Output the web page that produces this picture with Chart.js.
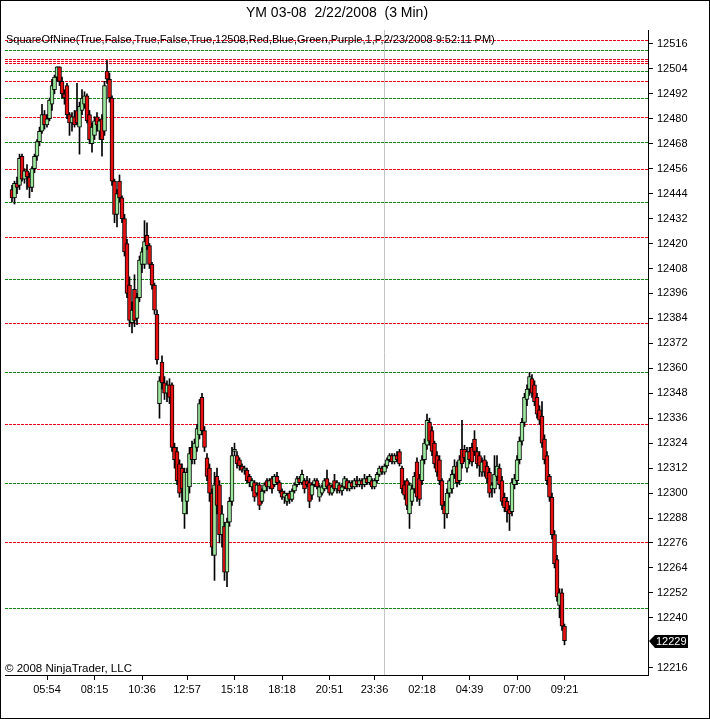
<!DOCTYPE html>
<html>
<head>
<meta charset="utf-8">
<script src="https://cdn.jsdelivr.net/npm/chart.js@4/dist/chart.umd.min.js"></script>
<style>
    html, body { margin: 0; padding: 0; background: #fff; }
</style>
</head>
<body>
<canvas id="chart" width="710" height="719"></canvas>
<script>
// YM 03-08, 3 min bars
let opens = [
    12446,12442,12449,12448,12462,12451,12455,12452,12447,12456,
    12462,12469,12474,12482,12477,12480,12487,12494,12500,12505,
    12498,12492,12496,12482,12478,12481,12484,12476,12484,12487,
    12491,12482,12468,12472,12481,12474,12480,12474,12503,12499,
    12490,12450,12434,12450,12442,12432,12420,12400,12382,12398,
    12384,12394,12410,12410,12424,12419,12410,12400,12386,12343,
    12363,12353,12348,12352,12352,12322,12320,12314,12312,12290,
    12296,12303,12322,12316,12322,12328,12346,12330,12317,12312,
    12300,12270,12308,12304,12280,12284,12262,12286,12296,12320,
    12318,12316,12313,12311,12311,12308,12303,12305,12300,12304,
    12296,12301,12306,12303,12307,12304,12308,12305,12301,12298,
    12296,12300,12297,12301,12304,12307,12305,12306,12306,12305,
    12299,12304,12306,12298,12300,12302,12307,12304,12300,12306,
    12302,12304,12301,12303,12306,12302,12305,12303,12306,12304,
    12306,12304,12307,12305,12306,12303,12306,12309,12312,12310,
    12313,12316,12318,12315,12318,12320,12312,12304,12306,12290,
    12296,12302,12315,12307,12306,12316,12323,12334,12330,12324,
    12318,12316,12306,12294,12290,12300,12302,12309,12313,12306,
    12321,12321,12312,12320,12322,12326,12320,12318,12310,12316,
    12313,12310,12302,12302,12308,12312,12306,12298,12296,12292,
    12291,12304,12306,12316,12325,12334,12345,12350,12355,12352,
    12346,12340,12337,12326,12318,12308,12298,12280,12268,12246,
    12252,12236
];
let highs = [
    12448,12450,12452,12463,12463,12456,12458,12454,12457,12463,
    12470,12476,12487,12484,12482,12490,12499,12501,12505,12505,
    12500,12494,12497,12483,12483,12484,12497,12488,12494,12493,
    12492,12484,12478,12481,12483,12480,12482,12498,12508,12502,
    12491,12451,12446,12453,12443,12434,12422,12404,12392,12405,
    12396,12414,12418,12431,12430,12420,12411,12401,12388,12356,
    12366,12356,12354,12355,12353,12324,12322,12316,12314,12312,
    12312,12322,12325,12326,12333,12345,12348,12332,12319,12314,
    12302,12310,12312,12306,12294,12286,12288,12298,12322,12324,
    12320,12317,12314,12313,12312,12309,12307,12306,12305,12305,
    12302,12305,12307,12307,12308,12309,12310,12306,12302,12301,
    12300,12301,12302,12305,12308,12308,12311,12307,12308,12307,
    12305,12307,12307,12304,12304,12307,12311,12305,12304,12309,
    12306,12305,12304,12308,12307,12306,12306,12307,12308,12307,
    12307,12309,12308,12309,12307,12307,12310,12313,12313,12314,
    12317,12319,12319,12319,12320,12321,12313,12306,12307,12305,
    12304,12310,12317,12309,12318,12326,12338,12336,12332,12325,
    12320,12318,12307,12296,12302,12307,12311,12316,12315,12318,
    12335,12323,12322,12322,12324,12330,12322,12320,12317,12318,
    12315,12312,12305,12318,12318,12314,12308,12300,12298,12294,
    12307,12309,12318,12327,12336,12348,12352,12358,12357,12354,
    12348,12342,12344,12328,12320,12309,12300,12282,12270,12254,
    12254,12237
];
let lows = [
    12440,12439,12444,12446,12450,12449,12446,12442,12445,12454,
    12460,12467,12473,12475,12476,12479,12484,12492,12498,12496,
    12490,12487,12480,12472,12474,12476,12477,12463,12482,12485,
    12478,12468,12464,12470,12474,12470,12462,12472,12497,12488,
    12448,12430,12428,12440,12430,12414,12394,12380,12377,12380,
    12381,12392,12406,12408,12417,12408,12398,12386,12362,12336,
    12350,12345,12344,12343,12320,12312,12304,12298,12296,12283,
    12290,12300,12314,12314,12320,12326,12328,12320,12306,12296,
    12270,12258,12290,12276,12274,12258,12255,12284,12294,12318,
    12312,12311,12310,12309,12305,12303,12301,12296,12299,12292,
    12295,12300,12301,12302,12300,12303,12304,12300,12297,12295,
    12294,12295,12296,12300,12303,12304,12304,12300,12303,12293,
    12297,12303,12302,12296,12299,12301,12302,12299,12299,12301,
    12300,12300,12299,12302,12301,12301,12302,12302,12303,12303,
    12302,12303,12304,12304,12302,12302,12305,12308,12309,12309,
    12312,12315,12314,12314,12315,12313,12300,12297,12292,12283,
    12294,12300,12296,12294,12304,12314,12321,12323,12318,12312,
    12308,12304,12292,12283,12288,12298,12300,12307,12303,12304,
    12312,12315,12310,12314,12313,12318,12312,12308,12308,12308,
    12305,12298,12298,12300,12306,12302,12294,12291,12286,12282,
    12289,12302,12304,12314,12323,12332,12342,12347,12346,12342,
    12336,12333,12322,12314,12304,12296,12278,12264,12248,12240,
    12234,12227
];
let closes = [
    12442,12449,12447,12461,12451,12455,12452,12447,12456,12462,
    12469,12474,12482,12477,12480,12489,12496,12500,12505,12498,
    12492,12490,12482,12478,12481,12477,12478,12486,12490,12491,
    12479,12470,12476,12479,12477,12479,12470,12496,12499,12490,
    12450,12434,12444,12442,12432,12416,12396,12383,12388,12383,
    12394,12412,12416,12421,12419,12410,12400,12388,12364,12354,
    12353,12348,12352,12346,12322,12316,12306,12300,12302,12310,
    12310,12319,12316,12324,12331,12343,12330,12322,12308,12300,
    12274,12304,12294,12280,12290,12262,12286,12296,12318,12321,
    12314,12313,12311,12312,12306,12305,12306,12298,12304,12294,
    12301,12304,12303,12306,12302,12308,12305,12301,12298,12300,
    12299,12297,12301,12304,12307,12305,12309,12302,12304,12296,
    12304,12306,12303,12303,12303,12306,12303,12300,12303,12302,
    12305,12301,12303,12307,12302,12305,12303,12306,12304,12306,
    12304,12307,12305,12308,12303,12306,12309,12312,12310,12313,
    12316,12318,12315,12318,12316,12314,12302,12299,12294,12304,
    12302,12308,12298,12297,12316,12324,12335,12325,12320,12314,
    12310,12306,12294,12290,12300,12306,12309,12313,12305,12316,
    12314,12317,12320,12316,12315,12320,12314,12313,12315,12310,
    12307,12300,12304,12309,12313,12304,12296,12293,12291,12290,
    12305,12307,12316,12325,12334,12346,12350,12356,12348,12344,
    12338,12335,12324,12316,12306,12298,12280,12266,12250,12252,
    12236,12229
];

// time axis labels and the bar each one sits on
let timeLabels = ["05:54", "08:15", "10:36", "12:57", "15:18", "18:18", "20:51", "23:36", "02:18", "04:39", "07:00", "09:21"];
let timeBars = [14, 33, 52, 70, 89, 108, 127, 145, 164, 183, 202, 221];
let priceTicks = [12216, 12240, 12252, 12264, 12276, 12288, 12300, 12312, 12324, 12336, 12348, 12360, 12372,
    12384, 12396, 12408, 12420, 12432, 12444, 12456, 12468, 12480, 12492, 12504, 12516];

// SquareOfNine levels
let redLevels = [12518, 12508.8, 12507.8, 12506.8, 12498, 12481, 12456, 12423, 12382, 12333, 12276.5];
let greenLevels = [12513, 12503, 12490, 12469, 12440, 12403, 12358, 12305, 12244.5];
let sessionBreak = 148.6;
let lastPrice = 12229;

const upColor = "#9ce89c";
const downColor = "#e81010";
const font = "Arial, 'Liberation Sans', sans-serif";

let bodies = opens.map((o, i) => ({x: i, y: [o, closes[i]]}));
let wicks = highs.map((h, i) => ({x: i, y: [lows[i], h]}));

const overlay = {
    id: "overlay",
    beforeDatasetsDraw(chart) {
        let c = chart.ctx;
        let area = chart.chartArea;
        let y = chart.scales.y;
        let x = chart.scales.x;
        c.save();
        c.lineWidth = 1;
        c.setLineDash([3, 1]);
        let drawLevel = (v, color) => {
            let py = Math.round(y.getPixelForValue(v)) + 0.5;
            c.strokeStyle = color;
            c.beginPath();
            c.moveTo(area.left, py);
            c.lineTo(area.right, py);
            c.stroke();
        };
        redLevels.forEach(v => drawLevel(v, "#e8001c"));
        greenLevels.forEach(v => drawLevel(v, "#108a10"));
        c.setLineDash([]);
        let px = Math.round(x.getPixelForValue(sessionBreak)) + 0.5;
        c.strokeStyle = "#c4c4c4";
        c.beginPath();
        c.moveTo(px, area.top);
        c.lineTo(px, area.bottom);
        c.stroke();
        c.restore();
    },
    afterDraw(chart) {
        let c = chart.ctx;
        let area = chart.chartArea;
        c.save();
        c.fillStyle = "#000";
        c.font = "14px " + font;
        c.textAlign = "center";
        c.textBaseline = "middle";
        c.fillText("YM 03-08  2/22/2008  (3 Min)", 337, 13);

        c.textAlign = "left";
        c.textBaseline = "alphabetic";
        c.font = "11px " + font;
        c.fillText("SquareOfNine(True,False,True,False,True,12508,Red,Blue,Green,Purple,1,P,2/23/2008 9:52:11 PM)", 6, 43);
        c.font = "11.5px " + font;
        c.fillText("\u00a9 2008 NinjaTrader, LLC", 5, 672);

        // last price marker on the axis
        let py = Math.round(chart.scales.y.getPixelForValue(lastPrice));
        let r = area.right;
        c.fillStyle = "#000";
        c.beginPath();
        c.moveTo(r + 1, py);
        c.lineTo(r + 7, py - 6);
        c.lineTo(r + 40, py - 6);
        c.lineTo(r + 40, py + 7);
        c.lineTo(r + 7, py + 7);
        c.closePath();
        c.fill();
        c.fillStyle = "#fff";
        c.font = "11px " + font;
        c.textBaseline = "middle";
        c.fillText(String(lastPrice), r + 8, py + 1);

        c.strokeStyle = "#000";
        c.lineWidth = 1;
        c.strokeRect(0.5, 0.5, chart.width - 1, chart.height - 1);
        c.restore();
    }
};

new Chart(document.getElementById("chart"), {
    type: "bar",
    data: {
        datasets: [{
            label: "wick",
            data: wicks,
            backgroundColor: "#000",
            barThickness: 1,
            grouped: false,
            order: 2
        }, {
            label: "body",
            data: bodies,
            backgroundColor: bodies.map(b => b.y[1] >= b.y[0] ? upColor : downColor),
            borderColor: "#000",
            borderWidth: 1,
            borderSkipped: false,
            barThickness: 4,
            minBarLength: 1,
            grouped: false,
            order: 1
        }]
    },
    options: {
        responsive: false,
        animation: false,
        events: [],
        layout: {padding: {left: 5, top: 30, right: 0, bottom: 0}},
        plugins: {
            legend: {display: false},
            tooltip: {enabled: false}
        },
        scales: {
            x: {
                type: "linear",
                min: -2.8,
                max: 254.4,
                offset: false,
                grid: {offset: false, drawOnChartArea: false, tickLength: 5, color: "#000"},
                border: {color: "#000"},
                afterBuildTicks: (s) => { s.ticks = timeBars.map(v => ({value: v})); },
                afterFit: (s) => { s.height = 44; },
                ticks: {
                    autoSkip: false,
                    maxRotation: 0,
                    padding: 3,
                    color: "#000",
                    font: {family: font, size: 11},
                    callback: (v) => timeLabels[timeBars.indexOf(v)]
                }
            },
            y: {
                position: "right",
                min: 12212.5,
                max: 12522.7,
                grid: {drawOnChartArea: false, tickLength: 5, color: "#000"},
                border: {color: "#000"},
                afterBuildTicks: (s) => { s.ticks = priceTicks.map(v => ({value: v})); },
                afterFit: (s) => { s.width = 62; },
                ticks: {
                    padding: 4,
                    color: "#000",
                    font: {family: font, size: 11},
                    callback: (v) => String(v)
                }
            }
        }
    },
    plugins: [overlay]
});
</script>
</body>
</html>
